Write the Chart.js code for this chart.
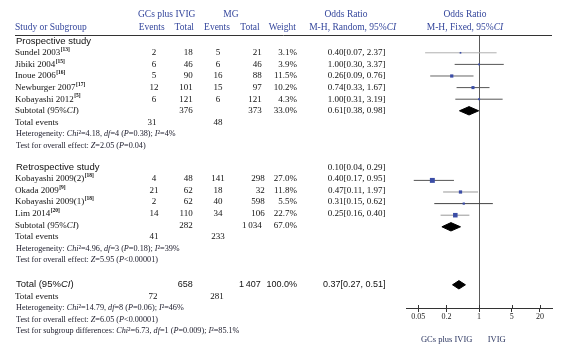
<!DOCTYPE html>
<html><head><meta charset="utf-8">
<script src="https://cdn.jsdelivr.net/npm/chart.js@4/dist/chart.umd.min.js"></script>
<style>html,body{margin:0;padding:0;background:#fff;}#wrap{position:relative;width:561px;height:357px;}</style>
</head><body><div id="wrap"><canvas id="c"></canvas></div>
<script>
// ---------------- data ----------------
const prosStudies = ['Sundel 2003','Jibiki 2004','Inoue 2006','Newburger 2007','Kobayashi 2012'];
const prosRefs = ['13','15','16','17','5'];
const prosGcEvents = [2,6,5,12,6];
const prosGcTotal = [18,46,90,101,121];
const prosMgEvents = [5,6,16,15,6];
const prosMgTotal = [21,46,88,97,121];
const prosWeight = [3.1,3.9,11.5,10.2,4.3];
const prosOR = [0.40,1.00,0.26,0.74,1.00];
const prosLo = [0.07,0.30,0.09,0.33,0.31];
const prosHi = [2.37,3.37,0.76,1.67,3.19];
const prosSubtotalOR = [0.61,0.38,0.98];
const prosSubtotalN = [376,373];
const prosSubtotalWeight = 33.0;
const prosTotalEvents = [31,48];
const prosStats = ['Heterogeneity: _Chi_²=4.18, _df_=4 (_P_=0.38); _I_²=4%','Test for overall effect: _Z_=2.05 (_P_=0.04)'];

const retroStudies = ['Kobayashi 2009(2)','Okada 2009','Kobayashi 2009(1)','Lim 2014'];
const retroRefs = ['18','9','18','20'];
const retroGcEvents = [4,21,2,14];
const retroGcTotal = [48,62,62,110];
const retroMgEvents = [141,18,40,34];
const retroMgTotal = [298,32,598,106];
const retroWeight = [27.0,11.8,5.5,22.7];
// odds-ratio column as printed (it starts on the section row; the plot uses the same values one row lower)
const retroOR = [0.10,0.40,0.47,0.31,0.25];
const retroLo = [0.04,0.17,0.11,0.15,0.16];
const retroHi = [0.29,0.95,1.97,0.62,0.40];
const retroSubtotalN = [282,1034];
const retroSubtotalWeight = 67.0;
const retroTotalEvents = [41,233];
const retroStats = ['Heterogeneity: _Chi_²=4.96, _df_=3 (_P_=0.18); _I_²=39%','Test for overall effect: _Z_=5.95 (_P_<0.00001)'];

const totalN = [658,1407];
const totalWeight = 100.0;
const totalOR = [0.37,0.27,0.51];
const totalEvents = [72,281];
const totalStats = ['Heterogeneity: _Chi_²=14.79, _df_=8 (_P_=0.06); _I_²=46%','Test for overall effect: _Z_=6.05 (_P_<0.00001)','Test for subgroup differences: _Chi_²=6.73, _df_=1 (_P_=0.009); _I_²=85.1%'];

const tickValues = [0.05,0.2,1,5,20];
const axisLabels = ['GCs plus IVIG','IVIG'];

// ---------------- layout / style ----------------
const ROW = { pros:0, retro:11, total:21 };
const RETRO_TEXT_SHIFT = -1.5; // px
const prosLineColors = ['#b0b0b0','#555','#666','#555','#555'];
const retroLineColors = ['#555','#999','#444','#999'];
const SQ = '#3b4da6';
const HEAD = '#34469c';
const SERIF = '"Liberation Serif","Times New Roman",serif';
const SANS = '"Liberation Sans",Arial,sans-serif';
const STAT = 8.2;
const DH = 0.36; // diamond half height in rows

const fmtOR = (a,l,h)=>a.toFixed(2)+'['+l.toFixed(2)+', '+h.toFixed(2)+']';
const fmtN = n => n>=1000 ? Math.floor(n/1000)+'\u2009'+String(n%1000).padStart(3,'0') : String(n);
const fmtW = w => w.toFixed(1)+'%';

// ---------------- datasets ----------------
const squares = [], sqWeights = [], ciSets = [];
prosStudies.forEach((s,i)=>{
  const r = ROW.pros+1+i;
  squares.push({x:prosOR[i], y:r}); sqWeights.push(prosWeight[i]);
  ciSets.push({data:[{x:prosLo[i],y:r},{x:prosHi[i],y:r}], color:prosLineColors[i]});
});
retroStudies.forEach((s,i)=>{
  const r = ROW.retro+1+i;
  squares.push({x:retroOR[i], y:r}); sqWeights.push(retroWeight[i]);
  ciSets.push({data:[{x:retroLo[i],y:r},{x:retroHi[i],y:r}], color:retroLineColors[i]});
});
function diamond(v, r){
  return [{x:v[1],y:r},{x:v[0],y:r-DH},{x:v[2],y:r},{x:v[0],y:r+DH},{x:v[1],y:r}];
}
const diamonds = [
  diamond(prosSubtotalOR, ROW.pros+6),
  diamond([retroOR[4],retroLo[4],retroHi[4]], ROW.retro+5),
  diamond(totalOR, ROW.total)
];

const datasets = [{
  data: squares, showLine:false, pointStyle:'rect',
  pointRadius: c => 0.672*Math.sqrt(sqWeights[c.dataIndex]||1),
  pointBackgroundColor:SQ, pointBorderWidth:0, borderWidth:0
}];
ciSets.forEach(c=>datasets.push({data:c.data, borderColor:c.color, borderWidth:1, pointRadius:0, fill:false, tension:0}));
diamonds.forEach(d=>datasets.push({data:d, borderColor:'#000', backgroundColor:'#000', borderWidth:1, pointRadius:0, fill:'shape', tension:0}));

// ---------------- text drawing ----------------
function rich(ctx, str, x, y, size, fam, align, color){
  const parts = str.split('_');
  let w = 0;
  parts.forEach((p,i)=>{ ctx.font=(i%2?'italic ':'')+size+'px '+fam; w += ctx.measureText(p).width; });
  let cx = align==='center' ? x-w/2 : align==='right' ? x-w : x;
  ctx.textAlign='left'; ctx.fillStyle=color||'#111';
  parts.forEach((p,i)=>{ ctx.font=(i%2?'italic ':'')+size+'px '+fam; ctx.fillText(p,cx,y); cx += ctx.measureText(p).width; });
}
function txt(ctx, s, x, y, size, fam, align, color){
  ctx.font = size+'px '+fam; ctx.textAlign = align; ctx.fillStyle = color||'#111'; ctx.fillText(s,x,y);
}
function study(ctx, name, ref, y){
  ctx.font='9px '+SERIF; ctx.textAlign='left'; ctx.fillStyle='#111';
  ctx.fillText(name, 15, y);
  const w = ctx.measureText(name).width;
  ctx.font='bold 5.5px '+SERIF; ctx.fillText('['+ref+']', 15+w+0.5, y-3.2);
}
const COL = { gcE:154, gcT:192.7, mgE:218, mgT:261.7, w:297, or:385.5 };

const tablePlugin = {
  id:'table',
  afterDraw(chart){
    const ctx = chart.ctx, ys = chart.scales.y, xs = chart.scales.x, a = chart.chartArea;
    const Y = r => ys.getPixelForValue(r);
    const YR = r => ys.getPixelForValue(r) + RETRO_TEXT_SHIFT;
    ctx.save();
    ctx.textBaseline = 'middle';
    // header rule
    ctx.strokeStyle='#333'; ctx.lineWidth=1;
    ctx.beginPath(); ctx.moveTo(15, Math.round(a.top)+0.5); ctx.lineTo(a.right, Math.round(a.top)+0.5); ctx.stroke();
    // tick marks crossing axis (upper half)
    ctx.beginPath();
    tickValues.forEach(v=>{ const px = Math.round(xs.getPixelForValue(v))+0.5; ctx.moveTo(px, a.bottom); ctx.lineTo(px, a.bottom-3); });
    ctx.stroke();
    // headers
    const h1 = Y(-2.34), h2 = Y(-1.22);
    txt(ctx,'GCs plus IVIG',166.7,h1,9.5,SERIF,'center',HEAD);
    txt(ctx,'MG',231,h1,9.5,SERIF,'center',HEAD);
    txt(ctx,'Odds Ratio',346,h1,9.5,SERIF,'center',HEAD);
    txt(ctx,'Odds Ratio',465,h1,9.5,SERIF,'center',HEAD);
    txt(ctx,'Study or Subgroup',15,h2,9.5,SERIF,'left',HEAD);
    txt(ctx,'Events',151.7,h2,9.5,SERIF,'center',HEAD);
    txt(ctx,'Total',184.3,h2,9.5,SERIF,'center',HEAD);
    txt(ctx,'Events',217,h2,9.5,SERIF,'center',HEAD);
    txt(ctx,'Total',250,h2,9.5,SERIF,'center',HEAD);
    txt(ctx,'Weight',282.3,h2,9.5,SERIF,'center',HEAD);
    rich(ctx,'M-H, Random, 95%_CI_',352.7,h2,9.5,SERIF,'center',HEAD);
    rich(ctx,'M-H, Fixed, 95%_CI_',465,h2,9.5,SERIF,'center',HEAD);

    // prospective
    txt(ctx,'Prospective study',16,Y(ROW.pros),9.5,SANS,'left','#111');
    prosStudies.forEach((s,i)=>{
      const y = Y(ROW.pros+1+i);
      study(ctx,s,prosRefs[i],y);
      txt(ctx,String(prosGcEvents[i]),COL.gcE,y,9,SERIF,'center');
      txt(ctx,String(prosGcTotal[i]),COL.gcT,y,9,SERIF,'right');
      txt(ctx,String(prosMgEvents[i]),COL.mgE,y,9,SERIF,'center');
      txt(ctx,String(prosMgTotal[i]),COL.mgT,y,9,SERIF,'right');
      txt(ctx,fmtW(prosWeight[i]),COL.w,y,9,SERIF,'right');
      txt(ctx,fmtOR(prosOR[i],prosLo[i],prosHi[i]),COL.or,y,9,SERIF,'right');
    });
    let y = Y(ROW.pros+6);
    rich(ctx,'Subtotal (95%_CI_)',15,y,9,SERIF,'left');
    txt(ctx,fmtN(prosSubtotalN[0]),COL.gcT,y,9,SERIF,'right');
    txt(ctx,fmtN(prosSubtotalN[1]),COL.mgT,y,9,SERIF,'right');
    txt(ctx,fmtW(prosSubtotalWeight),COL.w,y,9,SERIF,'right');
    txt(ctx,fmtOR(prosSubtotalOR[0],prosSubtotalOR[1],prosSubtotalOR[2]),COL.or,y,9,SERIF,'right');
    y = Y(ROW.pros+7);
    txt(ctx,'Total events',15,y,9,SERIF,'left');
    txt(ctx,String(prosTotalEvents[0]),COL.gcE-2,y,9,SERIF,'center');
    txt(ctx,String(prosTotalEvents[1]),COL.mgE,y,9,SERIF,'center');
    prosStats.forEach((s,i)=>rich(ctx,s,16,Y(ROW.pros+8+i),STAT,SERIF,'left','#1a1a2a'));

    // retrospective
    txt(ctx,'Retrospective study',16,YR(ROW.retro),9.5,SANS,'left','#111');
    retroOR.forEach((v,i)=>txt(ctx,fmtOR(v,retroLo[i],retroHi[i]),COL.or,YR(ROW.retro+i),9,SERIF,'right'));
    retroStudies.forEach((s,i)=>{
      const y = YR(ROW.retro+1+i);
      study(ctx,s,retroRefs[i],y);
      txt(ctx,String(retroGcEvents[i]),COL.gcE,y,9,SERIF,'center');
      txt(ctx,String(retroGcTotal[i]),COL.gcT,y,9,SERIF,'right');
      txt(ctx,String(retroMgEvents[i]),COL.mgE,y,9,SERIF,'center');
      txt(ctx,String(retroMgTotal[i]),COL.mgT+3,y,9,SERIF,'right');
      txt(ctx,fmtW(retroWeight[i]),COL.w,y,9,SERIF,'right');
    });
    y = YR(ROW.retro+5);
    rich(ctx,'Subtotal (95%_CI_)',15,y,9,SERIF,'left');
    txt(ctx,fmtN(retroSubtotalN[0]),COL.gcT,y,9,SERIF,'right');
    txt(ctx,fmtN(retroSubtotalN[1]),COL.mgT,y,9,SERIF,'right');
    txt(ctx,fmtW(retroSubtotalWeight),COL.w,y,9,SERIF,'right');
    y = YR(ROW.retro+6);
    txt(ctx,'Total events',15,y,9,SERIF,'left');
    txt(ctx,String(retroTotalEvents[0]),COL.gcE,y,9,SERIF,'center');
    txt(ctx,String(retroTotalEvents[1]),COL.mgE,y,9,SERIF,'center');
    retroStats.forEach((s,i)=>rich(ctx,s,16,YR(ROW.retro+7+i),STAT,SERIF,'left','#1a1a2a'));

    // total
    y = Y(ROW.total);
    rich(ctx,'Total (95%_CI_)',16,y,9.5,SANS,'left');
    txt(ctx,fmtN(totalN[0]),COL.gcT,y,9,SANS,'right');
    txt(ctx,fmtN(totalN[1]),COL.mgT-1,y,9,SANS,'right');
    txt(ctx,fmtW(totalWeight),COL.w,y,9,SANS,'right');
    txt(ctx,fmtOR(totalOR[0],totalOR[1],totalOR[2]),COL.or,y,9,SANS,'right');
    y = Y(ROW.total+1);
    txt(ctx,'Total events',15,y,9,SERIF,'left');
    txt(ctx,String(totalEvents[0]),COL.gcE-1,y,9,SERIF,'center');
    txt(ctx,String(totalEvents[1]),COL.mgE-1,y,9,SERIF,'center');
    totalStats.forEach((s,i)=>rich(ctx,s,16,Y(ROW.total+2+i),STAT,SERIF,'left','#1a1a2a'));

    // axis captions
    const ly = Y(25.7);
    txt(ctx,axisLabels[0],446.7,ly,8.5,SERIF,'center','#2b3560');
    txt(ctx,axisLabels[1],496.7,ly,8.5,SERIF,'center','#2b3560');
    ctx.restore();
  }
};

Chart.defaults.font.family = SERIF;
new Chart(document.getElementById('c'), {
  type:'line',
  data:{ datasets },
  options:{
    responsive:true, maintainAspectRatio:false, animation:false, events:[],
    devicePixelRatio:1,
    layout:{ padding:{ left:406, right:9, top:35, bottom:0 } },
    plugins:{ legend:{display:false}, tooltip:{enabled:false} },
    scales:{
      x:{
        type:'logarithmic', min:0.0273, max:36.3, position:'bottom',
        afterBuildTicks: s => { s.ticks = tickValues.map(v=>({value:v})); },
        afterFit: s => { s.height = 49; },
        ticks:{ autoSkip:false, maxRotation:0, padding:0, color:'#222', font:{size:8, family:SERIF}, callback: v => String(v) },
        grid:{ drawOnChartArea:true, color: c => (c.tick && c.tick.value===1) ? '#5a5a5a' : 'rgba(0,0,0,0)', tickColor:'#333', tickLength:4, lineWidth:1 },
        border:{ display:true, color:'#333', width:1 }
      },
      y:{ type:'linear', reverse:true, min:-0.534, max:23.0, display:false }
    }
  },
  plugins:[tablePlugin]
});
</script>
</body></html>
